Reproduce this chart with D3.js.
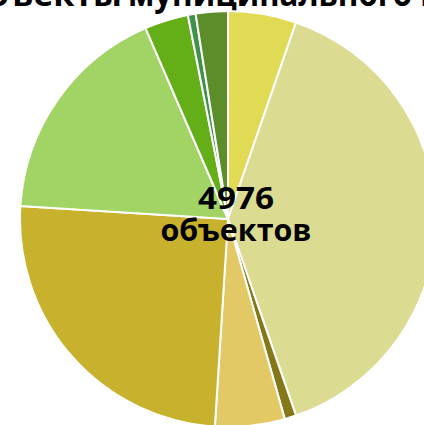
<!DOCTYPE html>
<html>
<head>
<meta charset="utf-8">
<script src="https://cdn.jsdelivr.net/npm/d3@7"></script>
<style>
  html, body { margin: 0; padding: 0; background: #ffffff; }
  svg { display: block; }
</style>
</head>
<body>
<svg id="chart" width="424" height="425"></svg>
<script>
// slice counts, clockwise from 12 o'clock (total 4976)
const sliceValues = [264, 1960, 45, 269, 1244, 871, 169, 30, 124];
const sliceColors = ["#e0da55", "#dcdb92", "#847819", "#e3c866", "#c8b22d",
                     "#a2d465", "#64ae18", "#3f9249", "#5b8e2a"];
const titleWords = ["Объекты", "муниципального", "имущества"];
const centerLines = ["4976", "объектов"];

const svg = d3.select("#chart");
const cx = 228, cy = 219, radius = 208;

// title, mostly cut off at the top edge
svg.append("text")
  .attr("x", 122).attr("y", 6)
  .attr("text-anchor", "end")
  .style("font-family", "'Open Sans', sans-serif")
  .style("font-weight", "bold")
  .style("font-size", "34px")
  .text(titleWords[0]);
svg.append("text")
  .attr("x", 128).attr("y", 6)
  .attr("textLength", 284)
  .attr("lengthAdjust", "spacingAndGlyphs")
  .style("font-family", "'Open Sans', sans-serif")
  .style("font-weight", "bold")
  .style("font-size", "34px")
  .text(titleWords[1]);
svg.append("text")
  .attr("x", 420).attr("y", 6)
  .style("font-family", "'Open Sans', sans-serif")
  .style("font-weight", "bold")
  .style("font-size", "34px")
  .text(titleWords[2]);

const pie = d3.pie().sort(null).value(d => d);
const arc = d3.arc().innerRadius(0).outerRadius(radius);

const g = svg.append("g").attr("transform", "translate(" + cx + "," + cy + ")");

g.selectAll("path")
  .data(pie(sliceValues))
  .enter()
  .append("path")
  .attr("d", arc)
  .attr("fill", (d, i) => sliceColors[i])
  .attr("stroke", "#ffffff")
  .attr("stroke-width", 2)
  .attr("stroke-linejoin", "round");

// center label
svg.append("text")
  .attr("x", 236).attr("y", 209)
  .attr("text-anchor", "middle")
  .attr("textLength", 76)
  .attr("lengthAdjust", "spacingAndGlyphs")
  .style("font-family", "'Open Sans', sans-serif")
  .style("font-weight", "bold")
  .style("font-size", "31px")
  .text(centerLines[0]);
svg.append("text")
  .attr("x", 236).attr("y", 241)
  .attr("text-anchor", "middle")
  .attr("textLength", 151)
  .attr("lengthAdjust", "spacingAndGlyphs")
  .style("font-family", "'Open Sans', sans-serif")
  .style("font-weight", "bold")
  .style("font-size", "30px")
  .text(centerLines[1]);
</script>
</body>
</html>
